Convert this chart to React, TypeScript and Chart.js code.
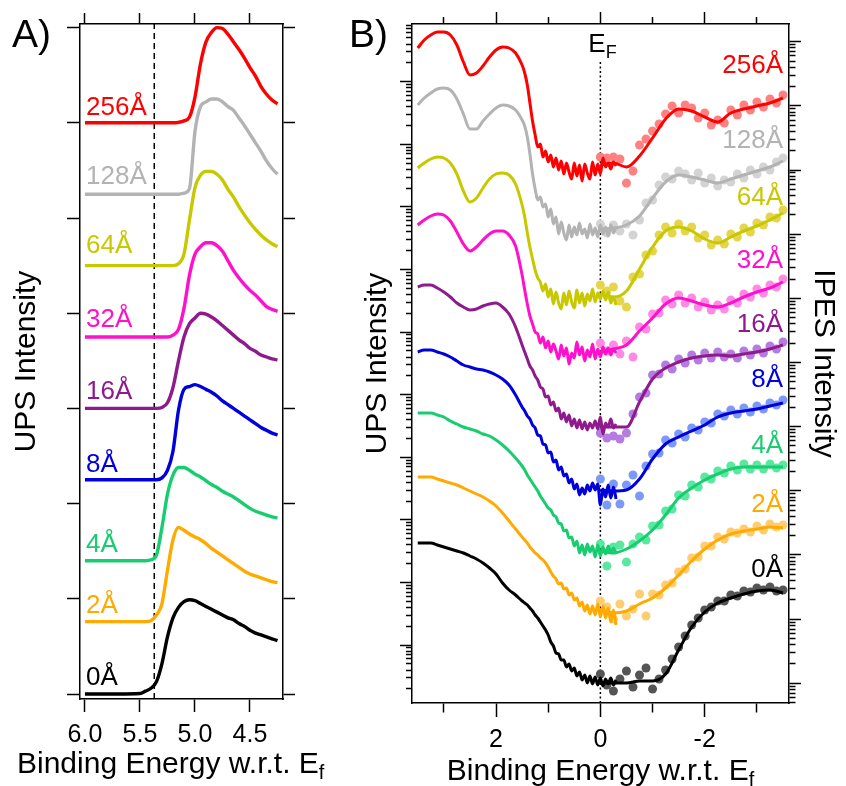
import React, { useEffect, useRef } from 'react';
import { Chart, registerables } from 'chart.js';

Chart.register(...registerables);

const FONT = '"Liberation Sans", Arial, Helvetica, sans-serif';

// ---------- series meta ----------
const thickness = ['0Å', '2Å', '4Å', '8Å', '16Å', '32Å', '64Å', '128Å', '256Å'];
const lineColors = ['#000000', '#ffaa00', '#18cc70', '#0000dd', '#8e1a8e', '#ff10cc', '#c8c800', '#b3b3b3', '#ff0000'];
const dotColors = ['#555555', '#ffcd70', '#5ae8a0', '#7c99f7', '#b47be0', '#ff8ae6', '#e5d54c', '#d3d3d3', '#ff8080'];

// ---------- Panel A: secondary electron cut-off ----------
const cutoffEnergy = [6.0, 5.7, 5.5, 5.45, 5.4, 5.35, 5.3, 5.25, 5.2, 5.15, 5.1, 5.05, 5.0, 4.95, 4.9, 4.85, 4.8, 4.75, 4.7, 4.65, 4.6, 4.55, 4.5, 4.45, 4.4, 4.35, 4.3, 4.25];
const cut0 = [0.0, 0.0, 0.005, 0.03, 0.06, 0.13, 0.32, 0.6, 0.8, 0.91, 0.97, 0.99, 0.98, 0.95, 0.92, 0.89, 0.86, 0.83, 0.8, 0.78, 0.74, 0.71, 0.67, 0.64, 0.62, 0.6, 0.58, 0.56];
const cut2 = [0.76, 0.76, 0.76, 0.76, 0.77, 0.83, 0.95, 1.3, 1.62, 1.75, 1.72, 1.68, 1.65, 1.62, 1.58, 1.53, 1.49, 1.45, 1.41, 1.37, 1.33, 1.29, 1.26, 1.24, 1.22, 1.2, 1.18, 1.17];
const cut4 = [1.4, 1.4, 1.4, 1.4, 1.41, 1.46, 1.75, 2.1, 2.3, 2.38, 2.38, 2.35, 2.31, 2.28, 2.24, 2.2, 2.17, 2.13, 2.1, 2.07, 2.03, 1.99, 1.95, 1.92, 1.9, 1.88, 1.86, 1.85];
const cut8 = [2.25, 2.25, 2.25, 2.25, 2.25, 2.25, 2.27, 2.35, 2.55, 2.98, 3.2, 3.23, 3.25, 3.23, 3.2, 3.17, 3.13, 3.08, 3.04, 3.0, 2.96, 2.92, 2.88, 2.84, 2.8, 2.77, 2.74, 2.72];
const cut16 = [3.0, 3.0, 3.0, 3.0, 3.0, 3.0, 3.01, 3.06, 3.22, 3.5, 3.75, 3.89, 3.95, 4.0, 3.99, 3.96, 3.92, 3.87, 3.82, 3.77, 3.72, 3.68, 3.63, 3.6, 3.56, 3.54, 3.52, 3.51];
const cut32 = [3.75, 3.75, 3.75, 3.75, 3.75, 3.75, 3.75, 3.75, 3.77, 3.83, 4.05, 4.4, 4.62, 4.7, 4.74, 4.74, 4.71, 4.65, 4.55, 4.45, 4.37, 4.3, 4.24, 4.19, 4.13, 4.07, 4.04, 4.02];
const cut64 = [4.5, 4.5, 4.5, 4.5, 4.5, 4.5, 4.5, 4.5, 4.5, 4.52, 4.62, 4.98, 5.32, 5.45, 5.49, 5.49, 5.46, 5.4, 5.3, 5.22, 5.12, 5.03, 4.95, 4.88, 4.82, 4.77, 4.73, 4.7];
const cut128 = [5.25, 5.25, 5.25, 5.25, 5.25, 5.25, 5.25, 5.25, 5.25, 5.25, 5.26, 5.31, 5.91, 6.17, 6.22, 6.25, 6.25, 6.22, 6.17, 6.13, 6.05, 5.97, 5.88, 5.79, 5.7, 5.6, 5.52, 5.46];
const cut256 = [6.0, 6.0, 6.0, 6.0, 6.0, 6.0, 6.0, 6.0, 6.0, 6.005, 6.02, 6.06, 6.27, 6.62, 6.85, 6.95, 7.0, 6.99, 6.93, 6.85, 6.77, 6.68, 6.58, 6.49, 6.38, 6.3, 6.24, 6.2];
const cutoffSeries = [cut0, cut2, cut4, cut8, cut16, cut32, cut64, cut128, cut256];

const aTicks = [6.0, 5.5, 5.0, 4.5];
const aTickLabels = ['6.0', '5.5', '5.0', '4.5'];
const aIntensityTicks = [0, 1, 2, 3, 4, 5, 6, 7];
const cutoffMarker = 5.37;

// ---------- Panel B: UPS valence band + IPES ----------
const valenceEnergy = [3.5, 3.375, 3.25, 3.125, 3.0, 2.875, 2.75, 2.625, 2.5, 2.375, 2.25, 2.125, 2.0, 1.875, 1.75, 1.625,
  1.5, 1.45, 1.4, 1.35, 1.3, 1.25, 1.2, 1.15, 1.1, 1.05, 1.0, 0.95, 0.9, 0.85, 0.8, 0.75, 0.7, 0.65, 0.6, 0.55, 0.5,
  0.45, 0.4, 0.35, 0.3, 0.25, 0.2, 0.15, 0.1, 0.05, 0.0, -0.05, -0.1, -0.15, -0.2, -0.25, -0.3];
const vb0 = [16.0, 16.0, 16.0, 15.8, 15.6, 15.4, 15.2, 15.0, 14.7, 14.4, 14.0, 13.5, 12.9, 12.0, 11.3, 10.8,
  10.2, 10.0, 9.8, 9.5, 9.2, 8.8, 8.5, 8.1, 7.7, 7.3, 6.8, 6.1, 5.7, 5.0, 4.9, 4.3, 4.3, 3.6, 3.9, 3.2, 3.5,
  2.7, 3.1, 2.3, 2.8, 2.0, 2.7, 1.9, 2.6, 1.8, 2.5, 1.7, 2.4, 1.9, 2.5, 1.8, 2.3];
const vb2 = [22.6, 22.6, 22.6, 22.4, 22.2, 22.0, 21.8, 21.5, 21.2, 20.9, 20.6, 20.2, 19.7, 19.0, 18.2, 17.4,
  16.6, 16.3, 16.0, 15.6, 15.3, 15.0, 14.8, 14.5, 14.3, 14.0, 13.6, 13.1, 12.7, 12.4, 11.9, 12.0, 11.4, 11.5, 10.8, 11.0, 10.3,
  10.5, 9.7, 10.1, 9.2, 9.8, 8.9, 9.7, 8.8, 9.9, 8.6, 9.7, 8.5, 9.5, 8.1, 9.3, 7.8];
const vb4 = [29.0, 29.0, 29.0, 28.8, 28.6, 28.2, 27.9, 27.6, 27.4, 27.2, 26.9, 26.7, 26.3, 25.8, 25.2, 24.5,
  23.7, 23.3, 22.8, 22.4, 22.0, 21.6, 21.2, 20.7, 20.3, 19.9, 19.5, 19.3, 18.8, 18.6, 18.0, 17.9, 17.2, 17.3, 16.5, 16.6, 15.7,
  16.2, 15.0, 15.8, 14.8, 15.9, 15.1, 15.7, 14.6, 15.8, 14.7, 15.6, 14.9, 15.7, 15.0, 15.5, 14.9];
const vb8 = [35.1, 35.3, 35.3, 35.1, 34.9, 34.6, 34.2, 33.8, 33.6, 33.4, 33.3, 33.1, 32.8, 32.4, 31.8, 30.8,
  29.6, 29.2, 28.7, 28.4, 27.8, 27.5, 26.8, 26.7, 25.9, 25.8, 25.0, 25.1, 24.1, 24.3, 23.3, 23.6, 22.7, 22.9, 22.0, 22.4, 21.4,
  21.9, 20.8, 21.5, 20.9, 21.8, 21.2, 22.0, 21.3, 21.9, 19.8, 21.4, 20.6, 21.8, 20.5, 21.6, 20.4];
const vb16 = [41.6, 41.8, 41.8, 41.5, 41.1, 40.6, 40.0, 39.6, 39.3, 39.4, 39.7, 39.9, 40.0, 39.6, 38.9, 37.6,
  35.8, 35.1, 34.4, 33.7, 33.3, 32.7, 32.3, 31.6, 31.4, 30.6, 30.7, 29.8, 30.1, 29.2, 29.5, 28.4, 29.0, 28.1, 28.8, 27.7, 28.4,
  27.5, 28.3, 27.4, 28.1, 27.3, 28.0, 27.5, 28.2, 27.4, 28.6, 26.9, 28.0, 27.6, 28.4, 27.5, 27.9];
const vb32 = [47.8, 48.3, 48.7, 48.9, 48.8, 48.2, 47.1, 45.9, 45.2, 45.6, 46.3, 46.9, 47.2, 47.2, 46.8, 45.7,
  42.8, 41.3, 39.9, 38.7, 37.9, 37.1, 36.9, 36.0, 36.6, 35.5, 36.2, 35.1, 35.9, 35.2, 34.4, 35.8, 34.7, 35.5, 33.9, 35.0, 34.5,
  36.1, 34.8, 35.6, 34.2, 35.3, 34.6, 35.9, 34.4, 35.4, 34.6, 35.6, 34.9, 35.5, 34.8, 35.4, 35.0];
const vb64 = [53.5, 54.0, 54.4, 54.6, 54.5, 54.0, 52.9, 51.2, 50.1, 50.5, 51.5, 52.4, 52.9, 53.0, 52.8, 51.9,
  49.8, 48.6, 47.0, 45.6, 44.4, 43.3, 42.5, 42.1, 41.2, 41.9, 40.6, 41.4, 39.9, 41.1, 40.0, 39.4, 41.0, 39.8, 41.2, 40.1, 39.5,
  41.3, 40.0, 41.0, 39.7, 40.9, 40.2, 41.4, 40.1, 41.0, 40.4, 41.2, 40.3, 41.1, 40.0, 40.6, 39.8];
const vb128 = [59.8, 60.5, 61.0, 61.4, 61.5, 61.3, 60.4, 58.9, 57.4, 57.4, 58.2, 58.9, 59.5, 59.8, 59.7, 59.3,
  58.3, 57.7, 56.6, 54.9, 52.9, 51.4, 50.3, 50.6, 49.6, 49.9, 48.6, 49.4, 47.9, 48.6, 46.9, 48.1, 47.0, 46.3, 47.8, 46.6, 47.6,
  46.8, 48.0, 46.9, 47.4, 46.5, 47.9, 46.8, 47.5, 46.6, 47.8, 46.9, 47.6, 46.7, 47.8, 47.0, 47.6];
const vb256 = [65.5, 66.3, 66.8, 67.1, 67.1, 66.8, 65.8, 64.1, 62.8, 63.0, 63.7, 64.6, 65.3, 65.6, 65.5, 65.0,
  63.8, 63.0, 61.8, 60.0, 58.2, 56.8, 55.6, 55.9, 54.6, 55.2, 54.1, 54.8, 53.6, 54.5, 53.3, 54.2, 52.9, 54.0, 53.1, 52.4, 54.0,
  52.7, 53.8, 52.2, 53.9, 53.0, 52.4, 54.1, 52.8, 53.9, 52.9, 54.5, 53.6, 54.0, 53.4, 54.1, 53.7];
const valenceSeries = [vb0, vb2, vb4, vb8, vb16, vb32, vb64, vb128, vb256];

const ipesFitEnergy = [0, -0.25, -0.5, -0.75, -1.0, -1.25, -1.5, -1.75, -2.0, -2.25, -2.5, -2.75, -3.0, -3.25, -3.5];
const fit0 = [2.0, 2.0, 2.0, 2.2, 2.2, 2.9, 5.3, 7.6, 9.1, 10.0, 10.5, 10.9, 11.2, 11.3, 11.0];
const fit2 = [9.3, 9.0, 9.2, 9.9, 10.5, 11.5, 12.8, 14.2, 15.4, 16.3, 16.9, 17.2, 17.4, 17.6, 17.5];
const fit4 = [15.2, 15.0, 15.4, 16.2, 17.3, 18.8, 20.5, 21.5, 22.3, 22.9, 23.4, 23.6, 23.6, 23.6, 23.6];
const fit8 = [21.3, 21.2, 21.3, 22.4, 24.4, 25.9, 26.6, 27.2, 27.8, 28.6, 29.0, 29.2, 29.4, 29.7, 30.0];
const fit16 = [27.6, 27.6, 27.6, 30.1, 32.4, 33.5, 34.1, 34.5, 34.7, 34.8, 34.7, 34.9, 35.1, 35.4, 35.8];
const fit32 = [35.1, 35.4, 35.8, 37.2, 38.5, 39.9, 40.5, 40.2, 39.8, 39.6, 40.0, 40.6, 41.1, 41.5, 42.1];
const fit64 = [40.9, 40.6, 41.2, 43.4, 45.6, 47.2, 47.6, 47.2, 46.4, 46.0, 46.6, 47.2, 47.7, 48.3, 49.0];
const fit128 = [47.4, 47.5, 47.8, 48.7, 50.5, 52.1, 52.8, 52.6, 52.3, 52.0, 52.4, 52.8, 53.2, 53.6, 54.2];
const fit256 = [53.8, 54.0, 53.6, 54.7, 56.5, 58.4, 59.4, 59.2, 58.6, 58.1, 59.0, 59.4, 59.7, 60.0, 60.5];
const fitSeries = [fit0, fit2, fit4, fit8, fit16, fit32, fit64, fit128, fit256];

const ipesDotEnergy = [0, -0.125, -0.25, -0.375, -0.5, -0.625, -0.75, -0.875, -1.0, -1.125, -1.25, -1.375, -1.5, -1.625, -1.75, -1.875, -2.0, -2.125, -2.25, -2.375, -2.5, -2.625, -2.75, -2.875, -3.0, -3.125, -3.25, -3.375, -3.5];
const dots0 = [2.9, 1.8, 1.2, 2.4, 3.2, 1.6, 2.8, 3.5, 1.4, 2.4, 3.3, 4.4, 5.6, 6.7, 7.8, 8.5, 9.3, 9.6, 10.2, 10.2, 10.8, 10.7, 11.2, 11.1, 11.5, 11.3, 11.6, 11.2, 11.3];
const dots2 = [10.2, 9.6, 8.4, 9.9, 8.7, 9.4, 10.9, 8.7, 10.9, 10.8, 11.8, 12.0, 13.1, 13.4, 14.5, 14.6, 15.7, 15.7, 16.6, 16.4, 17.1, 17.0, 17.4, 17.1, 17.7, 17.3, 17.9, 17.6, 17.8];
const dots4 = [15.9, 13.7, 15.6, 15.8, 14.1, 15.9, 16.6, 16.3, 17.7, 17.8, 19.2, 19.4, 20.8, 20.7, 21.8, 21.6, 22.6, 22.4, 23.2, 23.0, 23.7, 23.3, 23.9, 23.4, 23.8, 23.4, 23.9, 23.5, 23.8];
const dots8 = [22.4, 19.8, 21.9, 19.9, 21.8, 22.8, 20.7, 23.7, 24.9, 25.0, 26.3, 26.0, 26.9, 26.6, 27.5, 27.3, 28.1, 28.0, 28.9, 28.7, 29.3, 28.9, 29.5, 29.1, 29.7, 29.4, 30.0, 29.8, 30.3];
const dots16 = [27.0, 26.5, 26.7, 26.4, 27.0, 28.9, 30.6, 31.0, 32.8, 32.9, 33.8, 33.4, 34.4, 34.0, 34.8, 34.3, 35.0, 34.5, 35.1, 34.6, 34.9, 34.5, 35.2, 34.8, 35.4, 35.0, 35.7, 35.4, 36.1];
const dots32 = [36.0, 35.2, 35.8, 34.9, 36.2, 34.6, 37.6, 37.4, 38.9, 39.0, 40.3, 39.9, 40.8, 40.0, 40.5, 39.6, 40.1, 39.3, 39.8, 39.4, 40.3, 40.0, 40.9, 40.6, 41.4, 41.0, 41.8, 41.6, 42.4];
const dots64 = [41.8, 41.2, 41.6, 40.2, 39.6, 42.6, 42.9, 44.8, 45.2, 46.8, 47.6, 47.0, 47.9, 47.2, 47.6, 46.5, 46.8, 45.8, 46.3, 45.9, 46.9, 46.6, 47.5, 47.1, 48.0, 47.8, 48.6, 48.5, 49.3];
const dots128 = [47.9, 47.0, 47.8, 47.2, 47.9, 46.8, 48.3, 50.0, 50.3, 51.8, 52.6, 52.4, 53.2, 52.9, 52.3, 53.0, 52.0, 52.5, 51.7, 52.3, 52.1, 52.9, 52.5, 53.3, 52.9, 53.6, 53.3, 54.1, 54.5];
const dots256 = [54.6, 54.5, 54.6, 54.4, 52.0, 53.2, 55.8, 56.4, 57.2, 57.9, 58.9, 59.7, 59.0, 59.8, 59.5, 58.5, 59.0, 57.8, 58.3, 58.0, 59.3, 58.8, 59.8, 59.3, 60.1, 59.6, 60.4, 60.0, 60.8];
const dotSeries = [dots0, dots2, dots4, dots8, dots16, dots32, dots64, dots128, dots256];

const bTicks = [3, 2, 1, 0, -1, -2, -3];
const bTickLabels = ['', '2', '', '0', '', '-2', ''];
const fermiLevel = 0;

// log-style decoration of the stacked intensity axes (decade spacing in axis units)
const bLeftFirstMajor = 62.13;
const bLeftDecade = 6.26;
const bLeftDecadeCount = 10;
const bRightFirstMajor = 66.13;
const bRightDecade = 6.416;
const bRightDecadeCount = 11;

// label anchors (data units)
const aLabelEnergy = 5.99;
const aLabelLevels = [0.095, 0.854, 1.495, 2.335, 3.095, 3.858, 4.629, 5.354, 6.082];
const bLabelEnergy = -3.5;
const bLabelLevels = [12.63, 19.13, 24.97, 31.63, 37.13, 43.5, 49.8, 55.47, 62.97];

// ---------- helpers ----------
function logTicks(firstMajor: number, decade: number, count: number, min: number, max: number) {
  const out: any[] = [];
  for (let i = -1; i < count; i++) {
    const major = firstMajor - decade * i;
    if (i >= 0 && major >= min && major <= max) out.push({ value: major, big: true });
    for (let n = 9; n >= 2; n--) {
      const v = major - decade * (1 - Math.log10(n));
      if (v >= min && v <= max) out.push({ value: v, big: false });
    }
  }
  return out.sort((a, b) => a.value - b.value);
}

function drawSub(ctx: CanvasRenderingContext2D, main: string, sub: string, x: number, y: number,
  size: number, subSize: number, drop: number, align: 'left' | 'center') {
  ctx.font = `${size}px ${FONT}`;
  const w1 = ctx.measureText(main).width;
  ctx.font = `${subSize}px ${FONT}`;
  const w2 = ctx.measureText(sub).width;
  const start = align === 'center' ? x - (w1 + w2) / 2 : x;
  ctx.textAlign = 'left';
  ctx.textBaseline = 'alphabetic';
  ctx.font = `${size}px ${FONT}`;
  ctx.fillText(main, start, y);
  ctx.font = `${subSize}px ${FONT}`;
  ctx.fillText(sub, start + w1, y + drop);
}

function rotatedText(ctx: CanvasRenderingContext2D, text: string, x: number, y: number, angle: number, size: number) {
  ctx.save();
  ctx.translate(x, y);
  ctx.rotate(angle);
  ctx.font = `${size}px ${FONT}`;
  ctx.textAlign = 'center';
  ctx.textBaseline = 'alphabetic';
  ctx.fillStyle = '#000';
  ctx.fillText(text, 0, 0);
  ctx.restore();
}

function tickLabels(ctx: CanvasRenderingContext2D, scale: any, values: number[], labels: string[], baseline: number) {
  ctx.font = `25px ${FONT}`;
  ctx.fillStyle = '#000';
  ctx.textAlign = 'center';
  ctx.textBaseline = 'alphabetic';
  values.forEach((v, i) => {
    if (labels[i]) ctx.fillText(labels[i], scale.getPixelForValue(v), baseline);
  });
}

const gridBase = (len: number, dash?: (c: any) => number[]) => ({
  display: true,
  drawOnChartArea: false,
  drawTicks: true,
  tickLength: len,
  tickWidth: 1.5,
  tickColor: '#000',
  ...(dash ? { tickBorderDash: dash } : {}),
});
const borderBase = { display: true, color: '#000', width: 1.5 };

export default function App() {
  const refA = useRef<HTMLCanvasElement>(null);
  const refB = useRef<HTMLCanvasElement>(null);

  useEffect(() => {
    Chart.defaults.font.family = FONT;
    Chart.defaults.color = '#000';

    // ---------------- Panel A ----------------
    const aMin = -0.0525, aMax = 7.038;
    const aDatasets: any[] = cutoffSeries.map((s, k) => ({
      label: thickness[k],
      data: cutoffEnergy.map((x, i) => ({ x, y: s[i] })),
      borderColor: lineColors[k],
      borderWidth: 3.4,
      pointRadius: 0,
      cubicInterpolationMode: 'monotone',
      fill: false,
      order: 0,
    }));
    aDatasets.push({
      label: 'cutoff',
      data: [{ x: cutoffMarker, y: aMin }, { x: cutoffMarker, y: aMax }],
      borderColor: '#000',
      borderWidth: 1.5,
      borderDash: [6, 4],
      pointRadius: 0,
      order: 2,
    });

    const textA = {
      id: 'textA',
      afterDraw(chart: any) {
        const ctx = chart.ctx as CanvasRenderingContext2D;
        const xs = chart.scales.x, ys = chart.scales.y;
        ctx.save();
        ctx.font = `26px ${FONT}`;
        ctx.textAlign = 'left';
        ctx.textBaseline = 'alphabetic';
        thickness.forEach((t, i) => {
          ctx.fillStyle = lineColors[i];
          ctx.fillText(t, xs.getPixelForValue(aLabelEnergy), ys.getPixelForValue(aLabelLevels[i]));
        });
        tickLabels(ctx, xs, aTicks, aTickLabels, 742);
        ctx.fillStyle = '#000';
        ctx.textAlign = 'left';
        ctx.font = `39px ${FONT}`;
        ctx.fillText('A)', 12, 47);
        rotatedText(ctx, 'UPS Intensity', 35, (chart.chartArea.top + chart.chartArea.bottom) / 2, -Math.PI / 2, 30);
        ctx.fillStyle = '#000';
        drawSub(ctx, 'Binding Energy w.r.t. E', 'f', 17, 773, 30, 20, 6, 'left');
        ctx.restore();
      },
    };

    const aXTicks = (scale: any) => { scale.ticks = aTicks.map((v) => ({ value: v })); };
    const aYTicks = (scale: any) => { scale.ticks = aIntensityTicks.map((v) => ({ value: v })); };

    const chartA = new Chart(refA.current as HTMLCanvasElement, {
      type: 'line',
      data: { datasets: aDatasets },
      options: {
        responsive: false,
        animation: false,
        devicePixelRatio: 1,
        events: [],
        layout: { padding: { left: 0, right: 548, top: 0, bottom: 0 } },
        plugins: { legend: { display: false }, tooltip: { enabled: false } },
        scales: {
          x: {
            type: 'linear', position: 'bottom', reverse: true, min: 4.2, max: 6.045,
            afterBuildTicks: aXTicks,
            afterFit: (s: any) => { s.height = 87; },
            ticks: { display: false },
            grid: gridBase(13), border: borderBase,
          },
          x2: {
            type: 'linear', position: 'top', reverse: true, min: 4.2, max: 6.045,
            afterBuildTicks: aXTicks,
            afterFit: (s: any) => { s.height = 24; },
            ticks: { display: false },
            grid: gridBase(11), border: borderBase,
          },
          y: {
            type: 'linear', position: 'left', min: aMin, max: aMax,
            afterBuildTicks: aYTicks,
            afterFit: (s: any) => { s.width = 80; },
            ticks: { display: false },
            grid: gridBase(13), border: borderBase,
          },
          y2: {
            type: 'linear', position: 'right', min: aMin, max: aMax,
            afterBuildTicks: aYTicks,
            afterFit: (s: any) => { s.width = 15; },
            ticks: { display: false },
            grid: gridBase(12), border: borderBase,
          },
        },
      } as any,
      plugins: [textA],
    });

    // ---------------- Panel B ----------------
    const bMin = 0, bMax = 67.9;
    const bDatasets: any[] = [];
    valenceSeries.forEach((s, k) => {
      bDatasets.push({
        label: thickness[k] + ' UPS',
        data: valenceEnergy.map((x, i) => ({ x, y: s[i] })),
        borderColor: lineColors[k], borderWidth: 3, pointRadius: 0,
        cubicInterpolationMode: 'monotone', fill: false, order: 0,
      });
    });
    fitSeries.forEach((s, k) => {
      bDatasets.push({
        label: thickness[k] + ' IPES fit',
        data: ipesFitEnergy.map((x, i) => ({ x, y: s[i] })),
        borderColor: lineColors[k], borderWidth: 3, pointRadius: 0,
        cubicInterpolationMode: 'monotone', fill: false, order: 0,
      });
    });
    dotSeries.forEach((s, k) => {
      bDatasets.push({
        label: thickness[k] + ' IPES',
        data: ipesDotEnergy.map((x, i) => ({ x, y: s[i] })),
        showLine: false, pointRadius: 4.5, pointBorderWidth: 0,
        pointBackgroundColor: dotColors[k], borderColor: dotColors[k], order: 1,
      });
    });
    bDatasets.push({
      label: 'EF',
      data: [{ x: fermiLevel, y: bMin }, { x: fermiLevel, y: 64.1 }],
      borderColor: '#000', borderWidth: 1.5, borderDash: [2, 2.5], pointRadius: 0, order: 2,
    });

    const textB = {
      id: 'textB',
      afterDraw(chart: any) {
        const ctx = chart.ctx as CanvasRenderingContext2D;
        const xs = chart.scales.x, ys = chart.scales.y;
        const midY = (chart.chartArea.top + chart.chartArea.bottom) / 2;
        ctx.save();
        ctx.font = `26px ${FONT}`;
        ctx.textAlign = 'right';
        ctx.textBaseline = 'alphabetic';
        thickness.forEach((t, i) => {
          ctx.fillStyle = lineColors[i];
          ctx.fillText(t, xs.getPixelForValue(bLabelEnergy), ys.getPixelForValue(bLabelLevels[i]));
        });
        tickLabels(ctx, xs, bTicks, bTickLabels, 747);
        ctx.fillStyle = '#000';
        ctx.textAlign = 'left';
        ctx.font = `39px ${FONT}`;
        ctx.fillText('B)', 349, 47);
        drawSub(ctx, 'E', 'F', xs.getPixelForValue(fermiLevel) - 12, 52, 26, 18, 6, 'left');
        rotatedText(ctx, 'UPS Intensity', 386, midY, -Math.PI / 2, 30);
        rotatedText(ctx, 'IPES Intensity', 815, midY, Math.PI / 2, 30);
        ctx.fillStyle = '#000';
        drawSub(ctx, 'Binding Energy w.r.t. E', 'f', (chart.chartArea.left + chart.chartArea.right) / 2, 780, 30, 20, 6, 'center');
        ctx.restore();
      },
    };

    const bXTicks = (scale: any) => { scale.ticks = bTicks.map((v) => ({ value: v })); };
    const isOdd = (c: any) => c.tick && Math.abs(Math.round(c.tick.value)) % 2 === 1;
    const isSmall = (c: any) => c.tick && !c.tick.big;

    const chartB = new Chart(refB.current as HTMLCanvasElement, {
      type: 'line',
      data: { datasets: bDatasets },
      options: {
        responsive: false,
        animation: false,
        devicePixelRatio: 1,
        events: [],
        layout: { padding: { left: 397, right: 42, top: 0, bottom: 0 } },
        plugins: { legend: { display: false }, tooltip: { enabled: false } },
        scales: {
          x: {
            type: 'linear', position: 'bottom', reverse: true, min: -3.615, max: 3.61,
            afterBuildTicks: bXTicks,
            afterFit: (s: any) => { s.height = 83; },
            ticks: { display: false },
            grid: gridBase(14, (c: any) => (isOdd(c) ? [9, 100] : [])), border: borderBase,
          },
          x2: {
            type: 'linear', position: 'top', reverse: true, min: -3.615, max: 3.61,
            afterBuildTicks: bXTicks,
            afterFit: (s: any) => { s.height = 24; },
            ticks: { display: false },
            grid: gridBase(12, (c: any) => (isOdd(c) ? [0, 5, 7, 100] : [])), border: borderBase,
          },
          y: {
            type: 'linear', position: 'left', min: bMin, max: bMax,
            afterBuildTicks: (s: any) => { s.ticks = logTicks(bLeftFirstMajor, bLeftDecade, bLeftDecadeCount, bMin, bMax); },
            afterFit: (s: any) => { s.width = 15; },
            ticks: { display: false },
            grid: gridBase(12, (c: any) => (isSmall(c) ? [0, 6, 6, 100] : [])), border: borderBase,
          },
          y2: {
            type: 'linear', position: 'right', min: bMin, max: bMax,
            afterBuildTicks: (s: any) => { s.ticks = logTicks(bRightFirstMajor, bRightDecade, bRightDecadeCount, bMin, bMax); },
            afterFit: (s: any) => { s.width = 15; },
            ticks: { display: false },
            grid: gridBase(12, (c: any) => (isSmall(c) ? [6, 100] : [])), border: borderBase,
          },
        },
      } as any,
      plugins: [textB],
    });

    return () => {
      chartA.destroy();
      chartB.destroy();
    };
  }, []);

  return (
    <div style={{ position: 'absolute', left: 0, top: 0, width: 846, height: 786, background: '#ffffff' }}>
      <canvas ref={refA} width={846} height={786} style={{ position: 'absolute', left: 0, top: 0 }} />
      <canvas ref={refB} width={846} height={786} style={{ position: 'absolute', left: 0, top: 0 }} />
    </div>
  );
}
